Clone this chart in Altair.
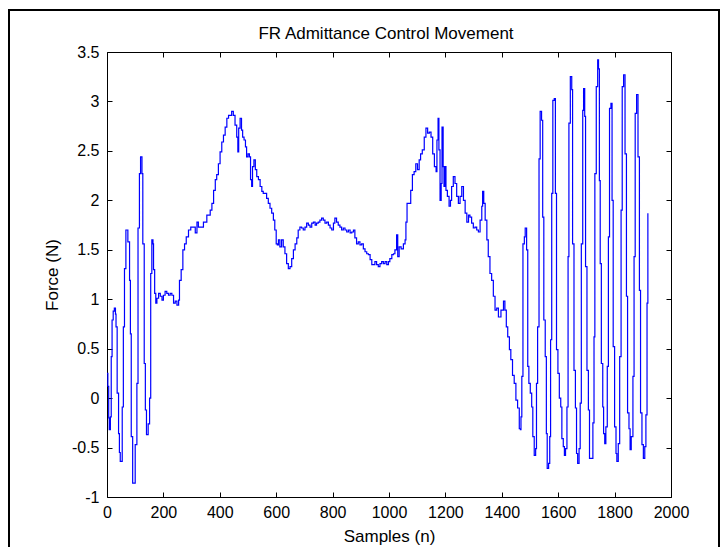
import altair as alt
import pandas as pd

# ---- data ----
samples = [
    0, 3, 6, 8, 12, 15, 18, 22, 26, 30, 32, 36, 41, 44, 47, 52, 54, 58, 62, 67,
    71, 74, 80, 83, 86, 91, 97, 100, 106, 110, 115, 119, 124, 127, 132, 136, 140, 146, 151, 155,
    159, 163, 165, 169, 173, 177, 183, 189, 195, 200, 206, 212, 218, 224, 230, 236, 242, 248, 254, 257,
    263, 269, 275, 281, 289, 297, 307, 313, 319, 324, 330, 342, 354, 366, 372, 378, 384, 389, 395, 401,
    407, 413, 419, 425, 431, 437, 442, 448, 454, 460, 464, 467, 472, 477, 481, 486, 491, 495, 500, 505,
    509, 513, 516, 521, 526, 531, 537, 543, 549, 554, 560, 566, 572, 578, 584, 590, 595, 600, 604, 608,
    613, 619, 625, 631, 637, 643, 649, 655, 661, 667, 673, 678, 684, 690, 696, 702, 708, 714, 720, 726,
    732, 738, 743, 749, 755, 761, 767, 773, 779, 785, 791, 797, 803, 808, 814, 820, 826, 832, 838, 844,
    850, 856, 862, 868, 874, 879, 885, 891, 897, 903, 909, 915, 921, 927, 933, 939, 944, 950, 956, 962,
    968, 974, 980, 986, 992, 998, 1003, 1010, 1016, 1021, 1027, 1031, 1036, 1043, 1051, 1057, 1060, 1064, 1071, 1077,
    1083, 1089, 1095, 1101, 1107, 1112, 1118, 1125, 1131, 1137, 1143, 1149, 1155, 1161, 1167, 1170, 1174, 1177, 1181, 1185,
    1188, 1192, 1195, 1199, 1202, 1207, 1213, 1218, 1222, 1228, 1234, 1240, 1246, 1252, 1258, 1264, 1270, 1276, 1282, 1287,
    1293, 1299, 1305, 1311, 1317, 1323, 1329, 1332, 1336, 1341, 1347, 1352, 1358, 1364, 1370, 1376, 1382, 1388, 1397, 1406,
    1411, 1416, 1421, 1427, 1432, 1438, 1444, 1450, 1456, 1462, 1466, 1468, 1471, 1475, 1480, 1483, 1488, 1492, 1496, 1501,
    1506, 1510, 1515, 1520, 1523, 1527, 1532, 1536, 1541, 1545, 1549, 1554, 1558, 1561, 1566, 1570, 1573, 1577, 1581, 1586,
    1590, 1594, 1599, 1604, 1609, 1613, 1618, 1622, 1626, 1631, 1635, 1638, 1643, 1648, 1651, 1656, 1661, 1665, 1669, 1674,
    1678, 1682, 1687, 1690, 1694, 1697, 1702, 1707, 1711, 1715, 1723, 1727, 1730, 1735, 1740, 1743, 1746, 1749, 1753, 1758,
    1761, 1765, 1769, 1774, 1778, 1782, 1787, 1791, 1795, 1800, 1805, 1808, 1813, 1818, 1823, 1827, 1832, 1837, 1842, 1846,
    1851, 1855, 1859, 1865, 1869, 1873, 1878, 1883, 1888, 1892, 1897, 1902, 1907, 1911, 1915, 1918,
]

force = [
    0.25, 0.12, -0.20, -0.32, -0.19, 0.42, 0.79, 0.88, 0.91, 0.85, 0.72, 0.05, -0.36, -0.55, -0.64, -0.64, -0.09, 0.72, 1.31, 1.70,
    1.70, 1.58, 1.19, 0.65, -0.39, -0.86, -0.86, -0.47, 0.15, 1.72, 2.27, 2.44, 2.27, 1.56, 0.35, -0.12, -0.37, -0.26, 0.00, 1.26,
    1.60, 1.56, 1.30, 1.06, 0.96, 1.01, 1.06, 1.03, 0.99, 1.04, 1.08, 1.06, 1.04, 1.06, 1.04, 0.96, 0.98, 0.94, 0.99, 1.19,
    1.30, 1.50, 1.56, 1.63, 1.70, 1.73, 1.73, 1.67, 1.78, 1.73, 1.73, 1.78, 1.85, 1.90, 1.97, 2.10, 2.21, 2.26, 2.37, 2.49,
    2.59, 2.66, 2.74, 2.83, 2.86, 2.86, 2.90, 2.86, 2.76, 2.64, 2.49, 2.73, 2.83, 2.71, 2.64, 2.61, 2.54, 2.44, 2.47, 2.44,
    2.21, 2.14, 2.34, 2.41, 2.31, 2.24, 2.21, 2.14, 2.09, 2.07, 2.07, 2.02, 1.97, 1.92, 1.87, 1.80, 1.70, 1.56, 1.55, 1.60,
    1.53, 1.60, 1.53, 1.46, 1.36, 1.31, 1.33, 1.41, 1.50, 1.56, 1.62, 1.70, 1.73, 1.72, 1.70, 1.73, 1.77, 1.75, 1.73, 1.77,
    1.78, 1.75, 1.77, 1.78, 1.80, 1.82, 1.80, 1.77, 1.78, 1.75, 1.72, 1.70, 1.77, 1.82, 1.78, 1.75, 1.73, 1.70, 1.72, 1.70,
    1.68, 1.70, 1.67, 1.68, 1.70, 1.62, 1.56, 1.58, 1.55, 1.56, 1.51, 1.48, 1.46, 1.45, 1.40, 1.35, 1.35, 1.38, 1.35, 1.33,
    1.36, 1.38, 1.36, 1.38, 1.35, 1.38, 1.41, 1.45, 1.46, 1.50, 1.65, 1.43, 1.53, 1.51, 1.56, 1.60, 1.78, 1.97, 1.97, 2.10,
    2.26, 2.29, 2.37, 2.31, 2.41, 2.47, 2.51, 2.64, 2.73, 2.68, 2.69, 2.64, 2.47, 2.34, 2.29, 2.61, 2.83, 2.51, 2.00, 2.17,
    2.74, 2.34, 2.14, 2.34, 2.10, 2.04, 1.94, 2.00, 2.14, 2.24, 2.17, 2.04, 1.97, 2.04, 2.14, 2.00, 1.87, 1.78, 1.85, 1.83,
    1.77, 1.72, 1.73, 1.70, 1.68, 1.80, 1.94, 2.09, 1.97, 1.80, 1.60, 1.43, 1.26, 1.19, 1.03, 0.89, 0.91, 0.82, 0.89, 0.98,
    0.89, 0.72, 0.62, 0.49, 0.39, 0.23, 0.15, -0.02, -0.10, -0.31, -0.32, -0.19, 0.22, 1.56, 1.63, 1.72, 1.50, 0.32, 0.15, 0.05,
    -0.09, -0.39, -0.58, -0.51, 0.15, 0.72, 2.42, 2.90, 2.81, 1.83, 0.79, 0.42, -0.36, -0.71, -0.66, -0.39, 0.59, 2.07, 3.01, 3.03,
    2.07, 0.49, 0.25, 0.00, -0.09, -0.41, -0.49, -0.58, -0.51, -0.09, 1.43, 2.78, 3.25, 3.12, 1.56, 0.28, -0.10, -0.56, -0.66, -0.51,
    -0.05, 1.56, 2.91, 3.13, 2.85, 1.33, 0.28, -0.12, -0.61, -0.61, -0.25, 0.62, 2.27, 3.15, 3.42, 3.33, 2.20, 1.36, 0.35, -0.09,
    -0.36, -0.46, -0.29, 0.32, 1.63, 2.93, 2.98, 2.00, 0.52, -0.29, -0.56, -0.64, -0.46, 0.42, 1.90, 3.15, 3.27, 2.47, 1.03, -0.15,
    -0.31, -0.52, -0.39, 0.22, 1.43, 2.88, 3.07, 2.44, 1.09, -0.15, -0.47, -0.61, -0.49, -0.17, 0.96, 1.87,
]

x_ticks = [0, 200, 400, 600, 800, 1000, 1200, 1400, 1600, 1800, 2000]
y_ticks = [-1, -0.5, 0, 0.5, 1, 1.5, 2, 2.5, 3, 3.5]
title_text = "FR Admittance Control Movement"

df = pd.DataFrame({"sample": samples, "force": force})

FONT = "Liberation Sans"
xscale = alt.Scale(domain=[0, 2000], nice=False, zero=False)
yscale = alt.Scale(domain=[-1, 3.5], nice=False, zero=False)

line = alt.Chart(df).mark_line(
    color="#0000ff", strokeWidth=1.2, interpolate="step-after"
).encode(
    x=alt.X("sample:Q", scale=xscale,
            axis=alt.Axis(orient="bottom", values=x_ticks, title="Samples (n)",
                          offset=-5, tickSize=5, domain=False, grid=False,
                          labelPadding=7, titlePadding=8, labelFlush=False,
                          labelOverlap=False,
                          labelExpr="datum.value + ''")),
    y=alt.Y("force:Q", scale=yscale,
            axis=alt.Axis(orient="left", values=y_ticks, title="Force (N)",
                          offset=-5, tickSize=5, domain=False, grid=False,
                          labelPadding=8, titlePadding=10, labelFlush=False,
                          labelOverlap=False,
                          labelExpr="datum.value + ''")),
)

mirror = alt.Chart(df).mark_line(opacity=0).encode(
    x=alt.X("sample:Q", scale=xscale,
            axis=alt.Axis(orient="top", values=x_ticks, labels=False, title=None,
                          offset=-5, tickSize=5, domain=False, grid=False)),
    y=alt.Y("force:Q", scale=yscale,
            axis=alt.Axis(orient="right", values=y_ticks, labels=False, title=None,
                          offset=-5, tickSize=5, domain=False, grid=False)),
)

frame = alt.Chart(pd.DataFrame({"k": [0]})).mark_rect(
    filled=False, stroke="black", strokeWidth=2
).encode(
    x=alt.value(-98), x2=alt.value(612), y=alt.value(-42), y2=alt.value(520)
)

title = alt.Chart(pd.DataFrame({"t": [title_text]})).mark_text(
    font=FONT, fontSize=17, color="black", align="center", baseline="alphabetic"
).encode(
    text="t:N", x=alt.value(279), y=alt.value(-13)
)

chart = alt.layer(frame, title, mirror, line).resolve_axis(
    x="independent", y="independent"
).properties(
    width=564,
    height=445,
    autosize=alt.AutoSizeParams(type="none"),
    padding={"left": 99, "top": 44, "right": 49, "bottom": 50},
).configure_view(
    stroke="black", strokeWidth=1
).configure_axis(
    labelFont=FONT, titleFont=FONT, labelFontSize=16, titleFontSize=17,
    labelColor="black", titleColor="black", tickColor="black",
    titleFontWeight="normal", tickWidth=1
)

chart.save("out.html", embed_options={"renderer": "svg", "actions": False})
